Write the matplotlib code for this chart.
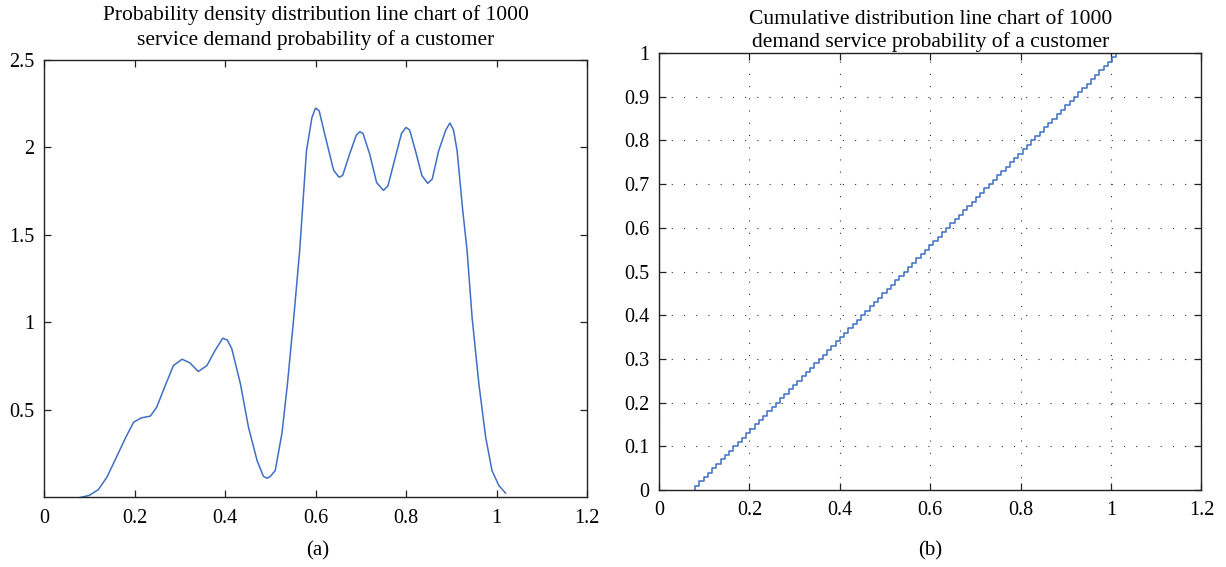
import matplotlib
matplotlib.use('Agg')
import matplotlib.pyplot as plt
from matplotlib.ticker import FuncFormatter

# (a) probability density curve
den_x = [0.080, 0.100, 0.120, 0.139, 0.160, 0.180, 0.198, 0.215, 0.235, 0.249,
         0.268, 0.286, 0.305, 0.322, 0.341, 0.360, 0.378, 0.395, 0.405, 0.415,
         0.434, 0.452, 0.471, 0.485, 0.493, 0.500, 0.511, 0.526, 0.538, 0.552,
         0.565, 0.580, 0.592, 0.600, 0.608, 0.620, 0.640, 0.652, 0.660, 0.675,
         0.690, 0.698, 0.705, 0.720, 0.735, 0.750, 0.760, 0.775, 0.790, 0.800,
         0.808, 0.820, 0.835, 0.848, 0.858, 0.872, 0.888, 0.897, 0.905, 0.913,
         0.925, 0.935, 0.946, 0.961, 0.976, 0.990, 1.005, 1.020]
den_y = [0.000, 0.012, 0.045, 0.116, 0.230, 0.340, 0.430, 0.455, 0.465, 0.516,
         0.640, 0.754, 0.790, 0.770, 0.720, 0.754, 0.840, 0.910, 0.900, 0.850,
         0.650, 0.400, 0.210, 0.120, 0.110, 0.120, 0.154, 0.370, 0.650, 1.030,
         1.410, 1.980, 2.170, 2.225, 2.210, 2.080, 1.870, 1.830, 1.840, 1.960,
         2.070, 2.090, 2.080, 1.960, 1.800, 1.755, 1.780, 1.930, 2.080, 2.115,
         2.100, 1.990, 1.840, 1.795, 1.820, 1.980, 2.100, 2.140, 2.100, 1.980,
         1.650, 1.410, 1.030, 0.650, 0.345, 0.154, 0.069, 0.025]

# (b) cumulative distribution: 100 equal steps of 0.01
cdf_edges = [0.0800, 0.0894, 0.0988, 0.1082, 0.1176, 0.1271, 0.1365, 0.1459, 0.1553, 0.1647,
             0.1741, 0.1835, 0.1929, 0.2023, 0.2117, 0.2212, 0.2306, 0.2400, 0.2494, 0.2588,
             0.2682, 0.2776, 0.2870, 0.2964, 0.3058, 0.3153, 0.3247, 0.3341, 0.3435, 0.3529,
             0.3623, 0.3717, 0.3811, 0.3905, 0.3999, 0.4094, 0.4188, 0.4282, 0.4376, 0.4470,
             0.4564, 0.4658, 0.4752, 0.4846, 0.4940, 0.5035, 0.5129, 0.5223, 0.5317, 0.5411,
             0.5505, 0.5599, 0.5693, 0.5787, 0.5881, 0.5976, 0.6070, 0.6164, 0.6258, 0.6352,
             0.6446, 0.6540, 0.6634, 0.6728, 0.6822, 0.6917, 0.7011, 0.7105, 0.7199, 0.7293,
             0.7387, 0.7481, 0.7575, 0.7669, 0.7763, 0.7858, 0.7952, 0.8046, 0.8140, 0.8234,
             0.8328, 0.8422, 0.8516, 0.8610, 0.8704, 0.8799, 0.8893, 0.8987, 0.9081, 0.9175,
             0.9269, 0.9363, 0.9457, 0.9551, 0.9645, 0.9740, 0.9834, 0.9928, 1.0022, 1.0116,
             1.0210]
cdf_levels = [0.00, 0.01, 0.02, 0.03, 0.04, 0.05, 0.06, 0.07, 0.08, 0.09,
              0.10, 0.11, 0.12, 0.13, 0.14, 0.15, 0.16, 0.17, 0.18, 0.19,
              0.20, 0.21, 0.22, 0.23, 0.24, 0.25, 0.26, 0.27, 0.28, 0.29,
              0.30, 0.31, 0.32, 0.33, 0.34, 0.35, 0.36, 0.37, 0.38, 0.39,
              0.40, 0.41, 0.42, 0.43, 0.44, 0.45, 0.46, 0.47, 0.48, 0.49,
              0.50, 0.51, 0.52, 0.53, 0.54, 0.55, 0.56, 0.57, 0.58, 0.59,
              0.60, 0.61, 0.62, 0.63, 0.64, 0.65, 0.66, 0.67, 0.68, 0.69,
              0.70, 0.71, 0.72, 0.73, 0.74, 0.75, 0.76, 0.77, 0.78, 0.79,
              0.80, 0.81, 0.82, 0.83, 0.84, 0.85, 0.86, 0.87, 0.88, 0.89,
              0.90, 0.91, 0.92, 0.93, 0.94, 0.95, 0.96, 0.97, 0.98, 0.99,
              1.00]

xticks = [0, 0.2, 0.4, 0.6, 0.8, 1, 1.2]
yticks_a = [0.5, 1, 1.5, 2, 2.5]
yticks_b = [0, 0.1, 0.2, 0.3, 0.4, 0.5, 0.6, 0.7, 0.8, 0.9, 1]

title_a = "Probability density distribution line chart of 1000\nservice demand probability of a customer"
title_b = "Cumulative distribution line chart of 1000\ndemand service probability of a customer"

plt.rcParams['font.family'] = ['Liberation Serif', 'DejaVu Serif']
plt.rcParams['font.size'] = 14

line_col = '#3f6fc4'
fmt = FuncFormatter(lambda v, p: '%g' % v)

fig = plt.figure(figsize=(12.26, 5.67), dpi=100)
ax1 = fig.add_axes([0.0359, 0.1226, 0.4429, 0.7716])
ax2 = fig.add_axes([0.5375, 0.1358, 0.4425, 0.7707])

ax1.plot(den_x, den_y, color=line_col, lw=1.1)
ax1.set_xlim(0, 1.2)
ax1.set_ylim(0, 2.5)
ax1.set_xticks(xticks)
ax1.set_yticks(yticks_a)
ax1.set_title(title_a, fontsize=15.5, pad=11, linespacing=1.32)

# riser at each edge, flat run to the next one
ax2.step(cdf_edges, cdf_levels, where='pre', color=line_col, lw=1.1)
ax2.set_xlim(0, 1.2)
ax2.set_ylim(0, 1)
ax2.set_xticks(xticks)
ax2.set_yticks(yticks_b)
ax2.set_title(title_b, fontsize=15.5, pad=4, linespacing=1.25)
ax2.grid(True, color='#333333', linestyle=(0, (1, 10)), lw=0.8)

for ax in (ax1, ax2):
    ax.xaxis.set_major_formatter(fmt)
    ax.yaxis.set_major_formatter(fmt)
    ax.tick_params(direction='in', top=True, right=True, length=5, width=0.9,
                   color='#222222', labelsize=14.5)
    ax.tick_params(axis='x', pad=8)
    ax.tick_params(axis='y', pad=7)
    for s in ax.spines.values():
        s.set_linewidth(1.0)
        s.set_color('#222222')

fig.text(0.259, 0.029, "(a)", ha='center', va='center', fontsize=15)
fig.text(0.759, 0.029, "(b)", ha='center', va='center', fontsize=15)

fig.savefig("out.png", dpi=100)
